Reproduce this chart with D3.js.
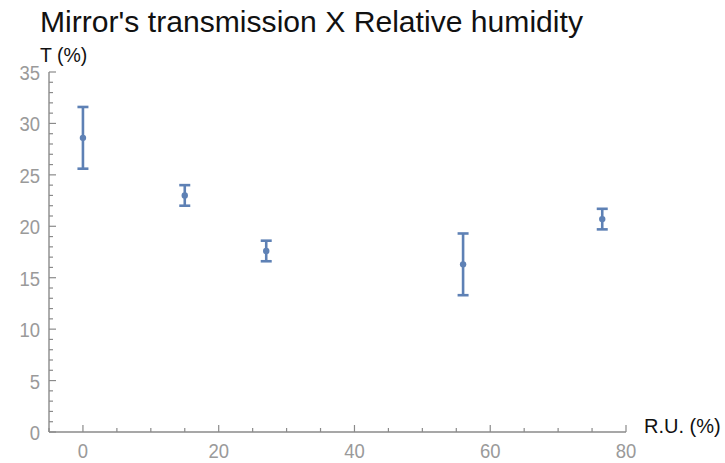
<!DOCTYPE html>
<html>
<head>
<meta charset="utf-8">
<script src="https://cdn.jsdelivr.net/npm/d3@7"></script>
<style>
  body { margin: 0; background: #fff; }
  svg { display: block; font-family: "Liberation Sans", Arial, sans-serif; }
</style>
</head>
<body>
<svg id="chart" width="725" height="463"></svg>
<script>
// data
const humidity = [0, 15, 27, 56, 76.5];
const transmission = [28.6, 23.0, 17.6, 16.3, 20.7];
const errors = [3.0, 1.0, 1.0, 3.0, 1.0];
const xTicks = [0, 20, 40, 60, 80];
const yTicks = [0, 5, 10, 15, 20, 25, 30, 35];

const color = '#5e81b5';
const axisColor = '#8a8a8a';
const labelColor = '#9a9a9a';

const svg = d3.select('#chart');

const x = d3.scaleLinear().domain([-5, 80]).range([49, 626]);
const y = d3.scaleLinear().domain([0, 35]).range([432, 72]);

// title
svg.append('text')
    .attr('x', 40)
    .attr('y', 32)
    .attr('textLength', 543)
    .attr('lengthAdjust', 'spacingAndGlyphs')
    .style('font-size', '29px')
    .style('fill', '#111')
    .text("Mirror's transmission X Relative humidity");

// tick label helper: slightly condensed digits like the original
function tickText(sel) {
    sel.style('font-size', '21px')
        .style('fill', labelColor);
}

// x axis
const xAxis = svg.append('g').attr('transform', `translate(0,${y(0)})`);
xAxis.append('line')
    .attr('x1', x(-5)).attr('x2', x(80))
    .attr('stroke', axisColor).attr('stroke-width', 1.4);
xAxis.selectAll('.minor')
    .data(d3.range(-5, 81, 5).filter(v => v % 20 !== 0))
    .enter().append('line')
    .attr('x1', d => x(d)).attr('x2', d => x(d))
    .attr('y1', 0).attr('y2', -4)
    .attr('stroke', axisColor).attr('stroke-width', 1.2);
xAxis.selectAll('.major')
    .data(xTicks)
    .enter().append('line')
    .attr('x1', d => x(d)).attr('x2', d => x(d))
    .attr('y1', 0).attr('y2', -7)
    .attr('stroke', axisColor).attr('stroke-width', 1.2);
xAxis.selectAll('.lbl')
    .data(xTicks)
    .enter().append('text')
    .attr('transform', d => `translate(${x(d)},26) scale(0.88,1)`)
    .attr('text-anchor', 'middle')
    .call(tickText)
    .text(d => d);

// y axis
const yAxis = svg.append('g').attr('transform', `translate(${x(-5)},0)`);
yAxis.append('line')
    .attr('y1', y(0)).attr('y2', y(35))
    .attr('stroke', axisColor).attr('stroke-width', 1.4);
yAxis.selectAll('.minor')
    .data(d3.range(0, 36, 1).filter(v => v % 5 !== 0))
    .enter().append('line')
    .attr('y1', d => y(d)).attr('y2', d => y(d))
    .attr('x1', 0).attr('x2', 4)
    .attr('stroke', axisColor).attr('stroke-width', 1.2);
yAxis.selectAll('.major')
    .data(yTicks)
    .enter().append('line')
    .attr('y1', d => y(d)).attr('y2', d => y(d))
    .attr('x1', 0).attr('x2', 7)
    .attr('stroke', axisColor).attr('stroke-width', 1.2);
yAxis.selectAll('.lbl')
    .data(yTicks)
    .enter().append('text')
    .attr('transform', d => `translate(-9,${y(d) + 8}) scale(0.88,1)`)
    .attr('text-anchor', 'end')
    .call(tickText)
    .text(d => d);

// axis labels
svg.append('text')
    .attr('x', 40).attr('y', 62)
    .style('font-size', '19.5px')
    .style('fill', '#111')
    .text('T (%)');
svg.append('text')
    .attr('x', 644).attr('y', 433)
    .style('font-size', '20px')
    .style('fill', '#111')
    .text('R.U. (%)');

// error bars
const points = humidity.map((h, i) => ({ h, t: transmission[i], e: errors[i] }));
const bars = svg.append('g').selectAll('g')
    .data(points)
    .enter().append('g');

bars.append('line')
    .attr('x1', d => x(d.h)).attr('x2', d => x(d.h))
    .attr('y1', d => y(d.t - d.e)).attr('y2', d => y(d.t + d.e))
    .attr('stroke', color).attr('stroke-width', 2.6);
bars.append('line')
    .attr('x1', d => x(d.h) - 5.5).attr('x2', d => x(d.h) + 5.5)
    .attr('y1', d => y(d.t + d.e)).attr('y2', d => y(d.t + d.e))
    .attr('stroke', color).attr('stroke-width', 2.6);
bars.append('line')
    .attr('x1', d => x(d.h) - 5.5).attr('x2', d => x(d.h) + 5.5)
    .attr('y1', d => y(d.t - d.e)).attr('y2', d => y(d.t - d.e))
    .attr('stroke', color).attr('stroke-width', 2.6);
bars.append('circle')
    .attr('cx', d => x(d.h))
    .attr('cy', d => y(d.t))
    .attr('r', 3.2)
    .attr('fill', color);
</script>
</body>
</html>
